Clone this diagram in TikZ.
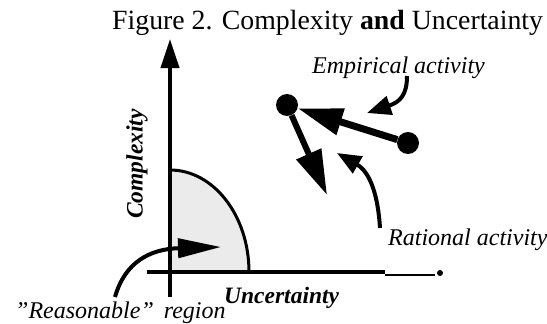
\documentclass[tikz,border=0pt]{standalone}
\usepackage{fontspec}
\setmainfont{Liberation Serif}
\usetikzlibrary{arrows.meta,positioning}
\tikzset{
  axisln/.style={line width=4pt},
  thinln/.style={line width=2.5pt},
  bigarr/.style={-{Triangle[length=45pt,width=26pt]},line width=7pt},
  curvarr/.style={-{Triangle[length=24pt,width=19pt]},line width=4pt},
  regarr/.style={-{Triangle[length=43pt,width=19pt]},line width=4pt},
  axarr/.style={-{Triangle[length=29pt,width=18pt]},line width=4pt},
  dotnd/.style={circle,fill=black,inner sep=0pt,minimum size=22pt},
  enddot/.style={circle,fill=black,inner sep=0pt,minimum size=6pt},
  regfill/.style={fill=black!8},
  ttl/.style={font=\fontsize{27.8}{30}\selectfont,inner sep=0pt},
  lbl/.style={font=\fontsize{24}{28}\selectfont\itshape,inner sep=0pt},
  axlbl/.style={font=\fontsize{23.5}{28}\selectfont\bfseries\itshape,inner sep=0pt}
}
\begin{document}
\begin{tikzpicture}[x=1pt,y=-1pt]
  \useasboundingbox (0,0) rectangle (547,324);

  % title
  \node[ttl,anchor=base west] (title) at (112,30) {Figure 2. Complexity \textbf{and} Uncertainty};

  % axes and the reasonable region
  \coordinate (orig) at (170,272);
  \coordinate (ybot) at (170,297);
  \coordinate (ytop) at (170,39);
  \coordinate (xleft) at (147,272);
  \coordinate (xright) at (385,272);
  \coordinate (xthin) at (385,275);
  \coordinate (xthinend) at (435,275);
  \coordinate (regtop) at (170,170);
  \coordinate (regend) at (249,272);
  \node[enddot] (axend) at (440,273) {};

  \fill[regfill] (orig) -- (regtop) .. controls (213.6,170) and (249,215.7) .. (regend) -- cycle;
  \draw[axarr] (ybot) -- (ytop);
  \draw[axisln] (xleft) -- (xright);
  \draw[thinln] (xthin) -- (xthinend);
  \draw[line width=3pt] (regtop) .. controls (213.6,170) and (249,215.7) .. (regend);

  \node[axlbl,rotate=90] (cplx) at (137,164) {Complexity};
  \node[axlbl,anchor=base west] (uncert) at (224,303) {Uncertainty};

  % reasonable region label
  \node[lbl,anchor=base west] (reglbl) at (15,318) {\char"22 Reasonable\char"22\hspace{4pt} region};
  \coordinate (regfrom) at (115,297);
  \coordinate (regtip) at (221,247);
  \draw[regarr] (regfrom) .. controls (125,262) and (150,249) .. (regtip);

  % activities
  \node[dotnd] (emp1) at (287,105) {};
  \node[dotnd] (emp2) at (408,143) {};
  \coordinate (downtip) at (327,195);
  \draw[bigarr] (emp2) -- (emp1);
  \draw[bigarr,line width=6pt] (emp1) -- (downtip);

  \node[lbl,anchor=base west] (emplbl) at (312,73) {Empirical activity};
  \coordinate (empfrom) at (407,76);
  \coordinate (emptip) at (367,113);
  \draw[curvarr] (empfrom) .. controls (407,95) and (400,102) .. (emptip);

  \node[lbl,anchor=base west] (ratlbl) at (388,245) {Rational activity};
  \coordinate (ratfrom) at (380,228);
  \coordinate (rattip) at (337,153);
  \draw[curvarr] (ratfrom) .. controls (378,195) and (370,172) .. (rattip);
\end{tikzpicture}
\end{document}
